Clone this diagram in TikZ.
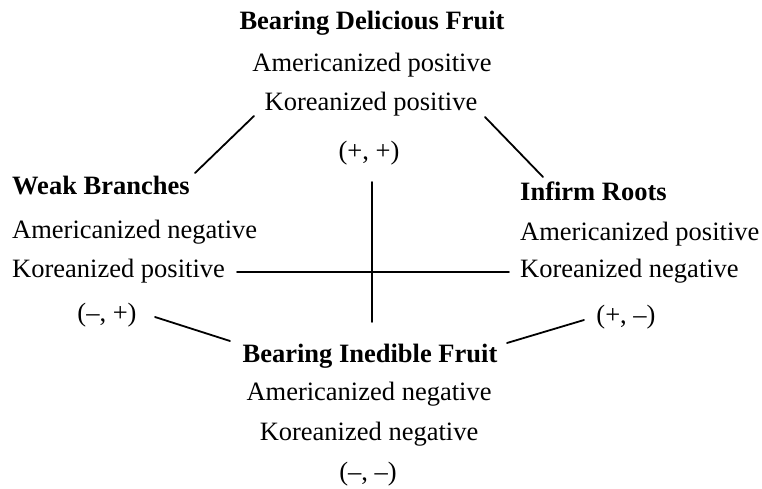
\documentclass[tikz,border=0pt]{standalone}
\usepackage{fontspec}
\setmainfont{Liberation Serif}
\begin{document}
\begin{tikzpicture}[x=1pt,y=-1pt,
  txt/.style={inner sep=0pt, font=\fontsize{26.5}{30}\selectfont},
  ttl/.style={inner sep=0pt, font=\fontsize{26.5}{30}\selectfont\bfseries},
  ln/.style={line width=1.8pt, line cap=round}]
\useasboundingbox[fill=white] (0,0) rectangle (762,489);
% top group
\node[ttl, anchor=base] (tT) at (372,30) {Bearing Delicious Fruit};
\node[txt, anchor=base] (tA) at (372,72) {Americanized positive};
\node[txt, anchor=base] (tK) at (371,111) {Koreanized positive};
\node[txt, anchor=base] (tS) at (369,160) {(+, +)};
% left group
\node[ttl, anchor=base west] (lT) at (12,194) {Weak Branches};
\node[txt, anchor=base west] (lA) at (12,238) {Americanized negative};
\node[txt, anchor=base west] (lK) at (12,277) {Koreanized positive};
\node[txt, anchor=base] (lS) at (107,321) {(–, +)};
% right group
\node[ttl, anchor=base west] (rT) at (520,200) {Infirm Roots};
\node[txt, anchor=base west] (rA) at (520,240) {Americanized positive};
\node[txt, anchor=base west] (rK) at (520,277) {Koreanized negative};
\node[txt, anchor=base] (rS) at (626,323) {(+, –)};
% bottom group
\node[ttl, anchor=base] (bT) at (370,362) {Bearing Inedible Fruit};
\node[txt, anchor=base] (bA) at (369,400) {Americanized negative};
\node[txt, anchor=base] (bK) at (369,440) {Koreanized negative};
\node[txt, anchor=base] (bS) at (368,480) {(–, –)};
% connector end points
\coordinate (tl1) at (254,116);
\coordinate (tl2) at (195,173);
\coordinate (tr1) at (485,117);
\coordinate (tr2) at (543,177);
\coordinate (bl1) at (155,317);
\coordinate (bl2) at (230,341);
\coordinate (br1) at (507,343);
\coordinate (br2) at (584,320);
\coordinate (h1) at (237,272);
\coordinate (h2) at (509,272);
\coordinate (v1) at (372,182);
\coordinate (v2) at (372,322);
\draw[ln] (tl1) -- (tl2);
\draw[ln] (tr1) -- (tr2);
\draw[ln] (bl1) -- (bl2);
\draw[ln] (br1) -- (br2);
\draw[ln] (h1) -- (h2);
\draw[ln] (v1) -- (v2);
\end{tikzpicture}
\end{document}
